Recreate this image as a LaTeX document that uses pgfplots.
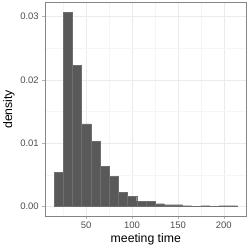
\documentclass[border=0pt]{standalone}
\usepackage{pgfplots}
\pgfplotsset{compat=1.18}
\usepackage{fontspec}
\setmainfont{Liberation Sans}
\definecolor{barfill}{HTML}{595959}
\definecolor{baredge}{HTML}{6E6E6E}
\definecolor{gmaj}{HTML}{EBEBEB}
\definecolor{gmin}{HTML}{F5F5F5}
\definecolor{border}{HTML}{858585}
\definecolor{ticktxt}{HTML}{4D4D4D}
\definecolor{tickc}{HTML}{B3B3B3}
\begin{document}
\begin{tikzpicture}
\begin{axis}[
  at={(0,0)}, anchor=south west,
  scale only axis, width=202.4pt, height=214pt,
  xmin=5, xmax=225, ymin=-0.00153, ymax=0.0322,
  xtick={50,100,150,200}, minor xtick={25,75,125,175},
  ytick={0,0.01,0.02,0.03}, minor ytick={0.005,0.015,0.025},
  yticklabels={0.00,0.01,0.02,0.03},
  grid=both,
  major grid style={gmaj, line width=0.5pt},
  minor grid style={gmin, line width=0.3pt},
  axis line style={border, line width=0.7pt},
  tick style={tickc, line width=0.5pt},
  major tick length=2.75pt, minor tick length=0pt,
  tick align=outside, tick pos=left,
  tick label style={font=\fontsize{9.5}{10}\selectfont, text=ticktxt},
  /pgf/number format/assume math mode=true,
  scaled y ticks=false,
  xlabel={meeting time}, ylabel={density},
  label style={font=\fontsize{12.3}{13}\selectfont},
  xlabel style={at={(axis description cs:0.5,-0.1089)}, anchor=center},
  ylabel style={at={(axis description cs:-0.178,0.5)}, anchor=center},
]
\addplot[ybar interval, fill=barfill, draw=baredge, line width=0.3pt] coordinates {
(15,0.00542) (25,0.03068) (35,0.02232) (45,0.01305) (55,0.01026) (65,0.00637)
(75,0.00479) (85,0.00226) (95,0.00158) (105,0.00084) (115,0.00084) (125,0.00042)
(135,0.00026) (145,0.00026) (155,0.0001) (165,0) (175,0.0001) (185,0)
(195,0.0001) (205,0.0001) (215,0)
};
\draw[border, line width=0.7pt] (rel axis cs:0,0) rectangle (rel axis cs:1,1);
\end{axis}
\path[use as bounding box] (-44.3pt,-32.3pt) rectangle (204.7pt,216.7pt);
\end{tikzpicture}
\end{document}
